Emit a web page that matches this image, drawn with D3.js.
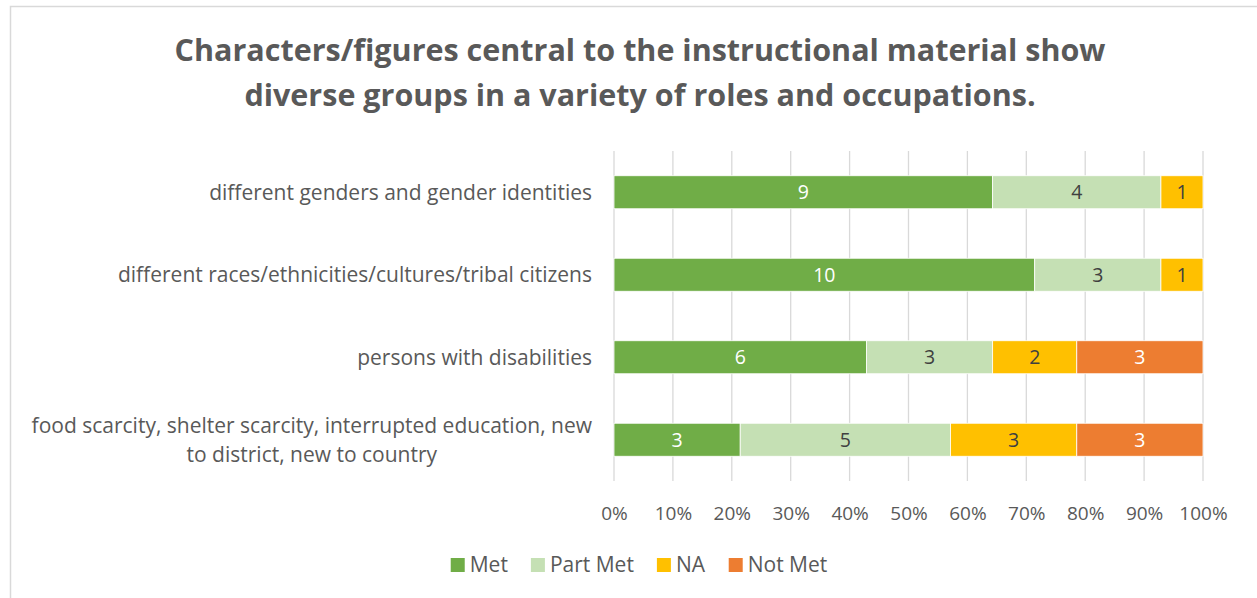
<!DOCTYPE html>
<html>
<head>
<meta charset="utf-8">
<script src="https://cdn.jsdelivr.net/npm/d3@7"></script>
<style>
  html, body { margin: 0; padding: 0; background: #fff; }
  svg { display: block; }
  text { font-family: "Open Sans", "Lato", sans-serif; }
</style>
</head>
<body>
<svg id="chart" width="1257" height="598"></svg>
<script>
const titleLines = [
  "Characters/figures central to the instructional material show",
  "diverse groups in a variety of roles and occupations."
];
const categories = [
  "different genders and gender identities",
  "different races/ethnicities/cultures/tribal citizens",
  "persons with disabilities",
  "food scarcity, shelter scarcity, interrupted education, new to district, new to country"
];
const seriesNames = ["Met", "Part Met", "NA", "Not Met"];
const metValues = [9, 10, 6, 3];
const partMetValues = [4, 3, 3, 5];
const naValues = [1, 1, 2, 3];
const notMetValues = [0, 0, 3, 3];
const tickValues = [0, 0.1, 0.2, 0.3, 0.4, 0.5, 0.6, 0.7, 0.8, 0.9, 1.0];
const colors = ["#70AD47", "#C5E0B4", "#FFC000", "#ED7D31"];
const labelColors = ["#ffffff", "#404040", "#404040", "#ffffff"];

(function () {
const svg = d3.select("#chart");
const textColor = "#595959";

svg.append("rect").attr("x", 10.5).attr("y", 6.5).attr("width", 1400).attr("height", 800)
  .attr("fill", "#fff").attr("stroke", "#d9d9d9").attr("stroke-width", 1.5);

svg.append("g").selectAll("text").data(titleLines).join("text")
  .attr("x", 640).attr("y", (d, i) => 61 + i * 45)
  .attr("text-anchor", "middle")
  .attr("font-size", 30.5).attr("font-weight", "bold")
  .attr("fill", textColor)
  .text(d => d);

const pLeft = 614, pRight = 1203, pTop = 151, pBottom = 481;
const x = d3.scaleLinear().domain([0, 1]).range([pLeft, pRight]);
const y = d3.scaleBand().domain(categories).range([pTop, pBottom]).paddingInner(0.6).paddingOuter(0.3);

svg.append("g").selectAll("line").data(tickValues).join("line")
  .attr("x1", d => x(d)).attr("x2", d => x(d))
  .attr("y1", pTop).attr("y2", pBottom)
  .attr("stroke", "#d9d9d9").attr("stroke-width", 1.3);

const xAxis = d3.axisBottom(x).tickValues(tickValues).tickFormat(d3.format(".0%")).tickSize(0).tickPadding(0);
const gx = svg.append("g").attr("transform", `translate(0,${pBottom + 39})`).call(xAxis);
gx.select(".domain").remove();
gx.selectAll("text").attr("font-size", 19).attr("fill", textColor)
  .attr("font-family", "'Open Sans', sans-serif").attr("dy", 0);

const rows = categories.map((c, i) => ({
  cat: c,
  "Met": metValues[i], "Part Met": partMetValues[i], "NA": naValues[i], "Not Met": notMetValues[i]
}));
const stack = d3.stack().keys(seriesNames).offset(d3.stackOffsetExpand);
const stacked = stack(rows);

const layers = svg.append("g").selectAll("g").data(stacked).join("g")
  .attr("fill", (d, i) => colors[i]);
layers.selectAll("rect").data(d => d.filter(v => v.data[d.key] > 0).map(v => ({v, key: d.key}))).join("rect")
  .attr("x", d => x(d.v[0]))
  .attr("y", d => y(d.v.data.cat))
  .attr("width", d => x(d.v[1]) - x(d.v[0]))
  .attr("height", y.bandwidth())
  .attr("stroke", "#ffffff").attr("stroke-width", 0.8);

stacked.forEach((layer, si) => {
  svg.append("g").selectAll("text").data(layer.filter(v => v.data[layer.key] > 0)).join("text")
    .attr("x", v => (x(v[0]) + x(v[1])) / 2)
    .attr("y", v => y(v.data.cat) + y.bandwidth() / 2)
    .attr("dy", "0.36em")
    .attr("text-anchor", "middle")
    .attr("font-size", 19.5)
    .attr("fill", labelColors[si])
    .text(v => v.data[layer.key]);
});

const maxW = 572;
const catG = svg.append("g");
categories.forEach(c => {
  const cy = y(c) + y.bandwidth() / 2;
  const t = catG.append("text").attr("font-size", 21).attr("fill", textColor);
  const words = c.split(" ");
  const lines = [];
  let line = [];
  const probe = t.append("tspan");
  words.forEach(w => {
    line.push(w);
    probe.text(line.join(" "));
    if (probe.node().getComputedTextLength() > maxW && line.length > 1) {
      line.pop();
      lines.push(line.join(" "));
      line = [w];
    }
  });
  lines.push(line.join(" "));
  probe.remove();
  const lh = 29;
  if (lines.length === 1) {
    t.attr("text-anchor", "end").attr("x", 592).attr("y", cy).attr("dy", "0.35em").text(lines[0]);
  } else {
    const tmp = t.append("tspan").text(lines[0]);
    let wmax = 0;
    lines.forEach(l => { tmp.text(l); wmax = Math.max(wmax, tmp.node().getComputedTextLength()); });
    tmp.remove();
    const cx = 592 - wmax / 2;
    t.attr("text-anchor", "middle");
    lines.forEach((l, i) => {
      t.append("tspan").attr("x", cx).attr("y", cy + (i - (lines.length - 1) / 2) * lh)
        .attr("dy", "0.35em").text(l);
    });
  }
});

const legendItems = seriesNames.map((n, i) => ({name: n, color: colors[i]}));
const lg = svg.append("g");
let lx = 0;
const itemG = lg.selectAll("g").data(legendItems).join("g");
itemG.append("rect").attr("width", 14).attr("height", 14).attr("y", -7).attr("fill", d => d.color);
itemG.append("text").attr("x", 19).attr("dy", "0.35em").attr("font-size", 21).attr("fill", textColor).text(d => d.name);
itemG.each(function() {
  d3.select(this).attr("transform", `translate(${lx},0)`);
  lx += this.getBBox().width + 23;
});
const totalW = lx - 23;
lg.attr("transform", `translate(${639 - totalW / 2},565)`);
})();
</script>
</body>
</html>
